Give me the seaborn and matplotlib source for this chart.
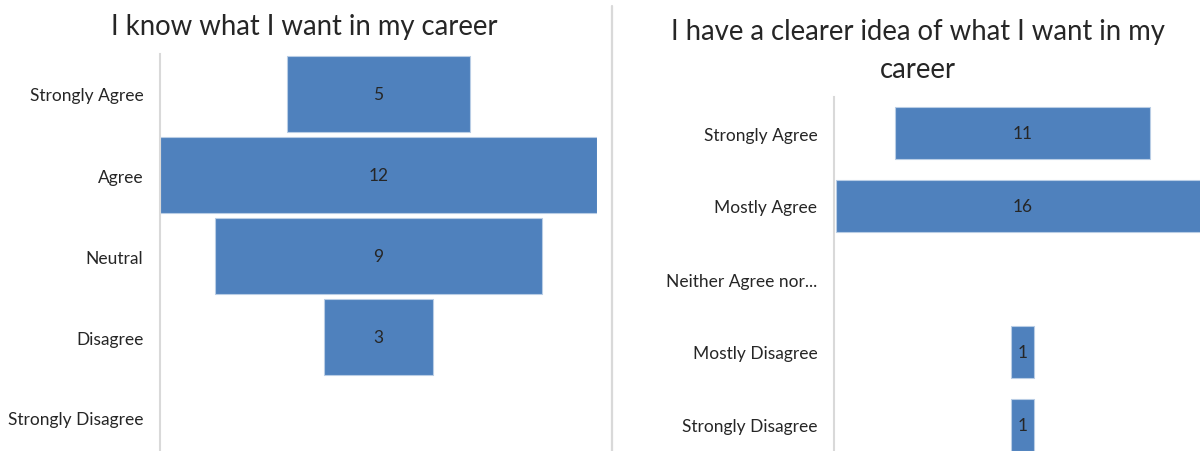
import matplotlib
matplotlib.use("Agg")
import matplotlib.pyplot as plt
from matplotlib.lines import Line2D
import seaborn as sns
import pandas as pd

# Survey responses
left_title = "I know what I want in my career"
left_categories = ["Strongly Agree", "Agree", "Neutral", "Disagree", "Strongly Disagree"]
left_counts = [5, 12, 9, 3, 0]

right_title = "I have a clearer idea of what I want in my\ncareer"
right_categories = ["Strongly Agree", "Mostly Agree", "Neither Agree nor...",
                    "Mostly Disagree", "Strongly Disagree"]
right_counts = [11, 16, 0, 1, 1]

BAR = "#4F81BD"
EDGE = "#B9CDE5"
GRID = "#D9D9D9"
TEXT = "#262626"
FONT = ["Lato", "DejaVu Sans"]

sns.set_theme(style="white")
plt.rcParams["font.family"] = FONT

W, H = 1200, 452
fig = plt.figure(figsize=(W / 100, H / 100), dpi=100)


def px_axes(x0, x1, y0, y1):
    # axes placed by pixel edges (y measured from the top)
    return fig.add_axes([x0 / W, 1 - y1 / H, (x1 - x0) / W, (y1 - y0) / H])


def funnel(ax, cats, counts, half, bar_width, fs):
    df = pd.DataFrame({"cat": cats, "n": counts})
    shown = df[df["n"] > 0]
    sns.barplot(data=shown, x="n", y="cat", order=cats, orient="h",
                color=BAR, saturation=1, width=bar_width,
                left=-shown["n"].to_numpy() / 2, edgecolor=EDGE,
                linewidth=0.8, ax=ax)
    for cont in ax.containers:
        ax.bar_label(cont, labels=[str(v) for v in shown["n"]],
                     label_type="center", fontsize=fs, color=TEXT)
    ax.set_xlim(-half, half)
    ax.set_ylim(len(cats) - 0.5, -0.5)
    ax.set_xlabel("")
    ax.set_ylabel("")
    ax.set_xticks([])
    for s in ("top", "right", "bottom"):
        ax.spines[s].set_visible(False)
    ax.spines["left"].set_color(GRID)
    ax.spines["left"].set_linewidth(1.5)
    ax.tick_params(axis="y", length=0, pad=12, labelsize=fs, labelcolor=TEXT)
    ax.patch.set_alpha(0)


ax1 = px_axes(160, 597, 54.5, 459.5)
funnel(ax1, left_categories, left_counts, 6, 0.94, 12.5)

ax2 = px_axes(834, 1211, 97.5, 462.5)
funnel(ax2, right_categories, right_counts, 8.1, 0.71, 12.5)

fig.text(304 / W, 1 - 27 / H, left_title, ha="center", va="center",
         fontsize=19.8, color=TEXT)
fig.text(918 / W, 1 - 51 / H, right_title, ha="center", va="center",
         fontsize=19.8, color=TEXT, linespacing=1.55, multialignment="center")

# divider between the two panels
fig.add_artist(Line2D([612 / W, 612 / W], [0, 0.985], color=GRID, lw=1.6))

fig.savefig("out.png", dpi=100)
